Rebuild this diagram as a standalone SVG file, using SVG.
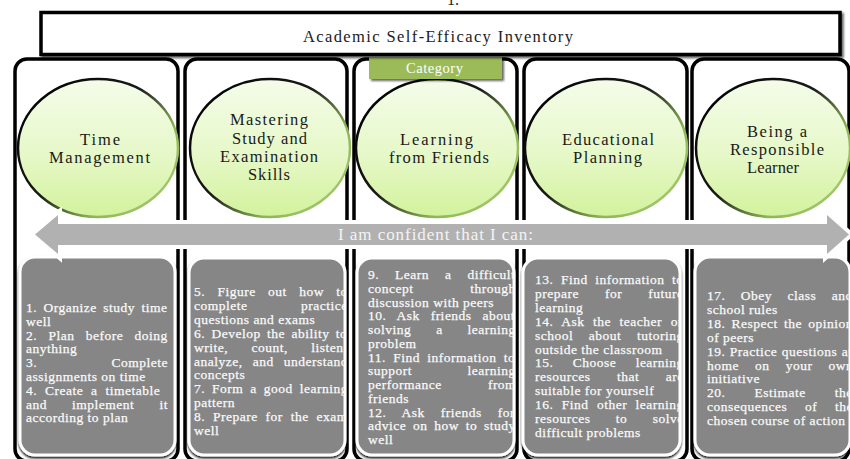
<svg xmlns="http://www.w3.org/2000/svg" width="850" height="459" viewBox="0 0 850 459">
  <defs>
    <style>
      .col { fill: none; stroke: #000; stroke-width: 3.5; }
      .bub { fill: url(#bubFill); stroke: url(#bubEdge); stroke-width: 2.5; }
      .lbl { font-family: "Liberation Serif", "Times New Roman", serif; font-size: 16.5px; fill: #1a1a1a; }
      .box { fill: #868686; stroke: #fff; stroke-width: 3; filter: url(#boxShadow); }
      .bt { font-family: "Liberation Serif", "Times New Roman", serif; font-size: 13.5px; fill: #fafafa; stroke: #fafafa; stroke-width: 0.25px; letter-spacing: 0.5px; }
      .head { font-family: "Liberation Serif", "Times New Roman", serif; fill: #222; }
    </style>
    <linearGradient id="bubFill" x1="0" y1="0" x2="0" y2="1">
      <stop offset="0" stop-color="#f5fcea"/>
      <stop offset="0.55" stop-color="#e6f8c8"/>
      <stop offset="1" stop-color="#d3f29c"/>
    </linearGradient>
    <linearGradient id="bubEdge" x1="0" y1="0.1" x2="1" y2="0.9">
      <stop offset="0" stop-color="#000"/>
      <stop offset="0.45" stop-color="#1a1a1a"/>
      <stop offset="0.72" stop-color="#8db656"/>
      <stop offset="1" stop-color="#a9cf73"/>
    </linearGradient>
    <filter id="boxShadow" x="-10%" y="-10%" width="120%" height="125%">
      <feDropShadow dx="0" dy="2" stdDeviation="1.2" flood-color="#000" flood-opacity="0.9"/>
    </filter>
    <filter id="titleShadow" x="-5%" y="-20%" width="110%" height="150%">
      <feDropShadow dx="2" dy="2" stdDeviation="0.8" flood-color="#000" flood-opacity="0.6"/>
    </filter>
    <clipPath id="clip1"><rect x="20" y="257" width="155" height="198" rx="15"/></clipPath>
    <clipPath id="clip2"><rect x="189" y="258" width="156" height="197" rx="15"/></clipPath>
    <clipPath id="clip3"><rect x="357" y="258" width="157" height="197" rx="15"/></clipPath>
    <clipPath id="clip4"><rect x="523" y="258" width="157" height="197" rx="15"/></clipPath>
    <clipPath id="clip5"><rect x="695" y="257" width="155" height="198" rx="15"/></clipPath>
  </defs>

  <rect width="850" height="459" fill="#fff"/>

  <!-- caption fragment above the frame -->
  <text class="head" x="447" y="5" font-size="16">1.</text>

  <!-- Category 1: Time Management -->
  <g id="time-management">
    <rect class="col" x="15" y="59" width="163" height="402" rx="12"/>
    <ellipse class="bub" cx="98" cy="148" rx="80" ry="69"/>
    <text class="lbl" x="80" y="145" textLength="40" lengthAdjust="spacing">Time</text>
    <text class="lbl" x="49" y="163" textLength="101" lengthAdjust="spacing">Management</text>
    <rect class="box" x="20" y="257" width="155" height="198" rx="15"/>
    <g clip-path="url(#clip1)">
      <text class="bt" x="26" y="312" style="word-spacing:2.6px">1. Organize study time</text>
      <text class="bt" x="26" y="325.8">well</text>
      <text class="bt" x="26" y="339.6" style="word-spacing:7.4px">2. Plan before doing</text>
      <text class="bt" x="26" y="353.4">anything</text>
      <text class="bt" x="26" y="367.2" style="word-spacing:70.4px">3. Complete</text>
      <text class="bt" x="26" y="381">assignments on time</text>
      <text class="bt" x="26" y="394.8" style="word-spacing:4px">4. Create a timetable</text>
      <text class="bt" x="26" y="408.6" style="word-spacing:21.2px">and implement it</text>
      <text class="bt" x="26" y="422.4">according to plan</text>
    </g>
  </g>

  <!-- Category 2: Mastering Study and Examination Skills -->
  <g id="study-skills">
    <rect class="col" x="185" y="59" width="162" height="402" rx="12"/>
    <ellipse class="bub" cx="270" cy="148" rx="80" ry="69"/>
    <text class="lbl" x="230" y="125" textLength="78" lengthAdjust="spacing">Mastering</text>
    <text class="lbl" x="232" y="143.5" textLength="75" lengthAdjust="spacing">Study and</text>
    <text class="lbl" x="220" y="162" textLength="98" lengthAdjust="spacing">Examination</text>
    <text class="lbl" x="248" y="180" textLength="42" lengthAdjust="spacing">Skills</text>
    <rect class="box" x="189" y="258" width="156" height="197" rx="15"/>
    <g clip-path="url(#clip2)">
      <text class="bt" x="194" y="296" style="word-spacing:8.5px">5. Figure out how to</text>
      <text class="bt" x="194" y="309.9" style="word-spacing:49.7px">complete practice</text>
      <text class="bt" x="194" y="323.8">questions and exams</text>
      <text class="bt" x="194" y="337.7" style="word-spacing:2.5px">6. Develop the ability to</text>
      <text class="bt" x="194" y="351.6" style="word-spacing:19.5px">write, count, listen,</text>
      <text class="bt" x="194" y="365.5" style="word-spacing:6.2px">analyze, and understand</text>
      <text class="bt" x="194" y="379.4">concepts</text>
      <text class="bt" x="194" y="393.3" style="word-spacing:3.1px">7. Form a good learning</text>
      <text class="bt" x="194" y="407.2">pattern</text>
      <text class="bt" x="194" y="421.1" style="word-spacing:4px">8. Prepare for the exam</text>
      <text class="bt" x="194" y="435">well</text>
    </g>
  </g>

  <!-- Category 3: Learning from Friends -->
  <g id="learning-from-friends">
    <rect class="col" x="354" y="59" width="163" height="402" rx="12"/>
    <ellipse class="bub" cx="437" cy="148" rx="81" ry="69"/>
    <text class="lbl" x="400" y="145" textLength="73" lengthAdjust="spacing">Learning</text>
    <text class="lbl" x="389" y="163" textLength="100" lengthAdjust="spacing">from Friends</text>
    <rect class="box" x="357" y="258" width="157" height="197" rx="15"/>
    <g clip-path="url(#clip3)">
      <text class="bt" x="368" y="279" style="word-spacing:12.1px">9. Learn a difficult</text>
      <text class="bt" x="368" y="292.75" style="word-spacing:53px">concept through</text>
      <text class="bt" x="368" y="306.5">discussion with peers</text>
      <text class="bt" x="368" y="320.25" style="word-spacing:7px">10. Ask friends about</text>
      <text class="bt" x="368" y="334" style="word-spacing:21px">solving a learning</text>
      <text class="bt" x="368" y="347.75">problem</text>
      <text class="bt" x="368" y="361.5" style="word-spacing:3.4px">11. Find information to</text>
      <text class="bt" x="368" y="375.25" style="word-spacing:51.6px">support learning</text>
      <text class="bt" x="368" y="389" style="word-spacing:42.3px">performance from</text>
      <text class="bt" x="368" y="402.75">friends</text>
      <text class="bt" x="368" y="416.5" style="word-spacing:12.1px">12. Ask friends for</text>
      <text class="bt" x="368" y="430.25" style="word-spacing:2.9px">advice on how to study</text>
      <text class="bt" x="368" y="444">well</text>
    </g>
  </g>

  <!-- Category 4: Educational Planning -->
  <g id="educational-planning">
    <rect class="col" x="524" y="59" width="163" height="402" rx="12"/>
    <ellipse class="bub" cx="606" cy="148" rx="81" ry="69"/>
    <text class="lbl" x="562" y="145" textLength="92" lengthAdjust="spacing">Educational</text>
    <text class="lbl" x="573" y="163" textLength="69" lengthAdjust="spacing">Planning</text>
    <rect class="box" x="523" y="258" width="157" height="197" rx="15"/>
    <g clip-path="url(#clip4)">
      <text class="bt" x="535" y="284" style="word-spacing:3.7px">13. Find information to</text>
      <text class="bt" x="535" y="297.9" style="word-spacing:22.2px">prepare for future</text>
      <text class="bt" x="535" y="311.8">learning</text>
      <text class="bt" x="535" y="325.7" style="word-spacing:4.7px">14. Ask the teacher or</text>
      <text class="bt" x="535" y="339.6" style="word-spacing:11.7px">school about tutoring</text>
      <text class="bt" x="535" y="353.5">outside the classroom</text>
      <text class="bt" x="535" y="367.4" style="word-spacing:15.5px">15. Choose learning</text>
      <text class="bt" x="535" y="381.3" style="word-spacing:22.6px">resources that are</text>
      <text class="bt" x="535" y="395.2">suitable for yourself</text>
      <text class="bt" x="535" y="409.1" style="word-spacing:4.5px">16. Find other learning</text>
      <text class="bt" x="535" y="423" style="word-spacing:21.5px">resources to solve</text>
      <text class="bt" x="535" y="436.9">difficult problems</text>
    </g>
  </g>

  <!-- Category 5: Being a Responsible Learner -->
  <g id="responsible-learner">
    <rect class="col" x="692" y="59" width="157" height="402" rx="12"/>
    <ellipse class="bub" cx="773" cy="148" rx="77" ry="69"/>
    <text class="lbl" x="747" y="137" textLength="60" lengthAdjust="spacing">Being a</text>
    <text class="lbl" x="730" y="154.5" textLength="94" lengthAdjust="spacing">Responsible</text>
    <text class="lbl" x="747" y="173" textLength="52" lengthAdjust="spacing">Learner</text>
    <rect class="box" x="695" y="257" width="155" height="198" rx="15"/>
    <g clip-path="url(#clip5)">
      <text class="bt" x="707" y="300" style="word-spacing:11.6px">17. Obey class and</text>
      <text class="bt" x="707" y="313.9">school rules</text>
      <text class="bt" x="707" y="327.8" style="word-spacing:2.3px">18. Respect the opinion</text>
      <text class="bt" x="707" y="341.7">of peers</text>
      <text class="bt" x="707" y="355.6" style="word-spacing:0.6px">19. Practice questions at</text>
      <text class="bt" x="707" y="369.5" style="word-spacing:12.2px">home on your own</text>
      <text class="bt" x="707" y="383.4">initiative</text>
      <text class="bt" x="707" y="397.3" style="word-spacing:25.2px">20. Estimate the</text>
      <text class="bt" x="707" y="411.2" style="word-spacing:13.9px">consequences of the</text>
      <text class="bt" x="707" y="425.1">chosen course of action</text>
    </g>
  </g>

  <!-- shared double-headed arrow across all categories -->
  <g id="connectors">
    <path d="M35,234.5 L58,215 L58,224 L827,224 L827,215 L849,234.5 L827,254 L827,245 L58,245 L58,254 Z"
          fill="#b1b1b1" stroke="#fff" stroke-width="8" stroke-linejoin="miter" paint-order="stroke"/>
    <text x="338" y="239.5" textLength="195" lengthAdjust="spacing"
          font-family="Liberation Serif, Times New Roman, serif" font-size="17" fill="#f4f4f4">I am confident that I can:</text>
  </g>

  <!-- category tag -->
  <g id="category-tag">
    <rect x="369" y="57" width="133" height="22" fill="#9bbb59" filter="url(#titleShadow)"/>
    <text x="406" y="72.5" textLength="57" lengthAdjust="spacing"
          font-family="Liberation Serif, Times New Roman, serif" font-size="14.5" fill="#fff">Category</text>
  </g>

  <!-- inventory title -->
  <g id="title">
    <rect x="41" y="12.5" width="799" height="42" fill="#fff" stroke="#000" stroke-width="3.5" filter="url(#titleShadow)"/>
    <text class="head" x="303" y="42" font-size="16.5" textLength="270" lengthAdjust="spacing">Academic Self-Efficacy Inventory</text>
  </g>
</svg>
